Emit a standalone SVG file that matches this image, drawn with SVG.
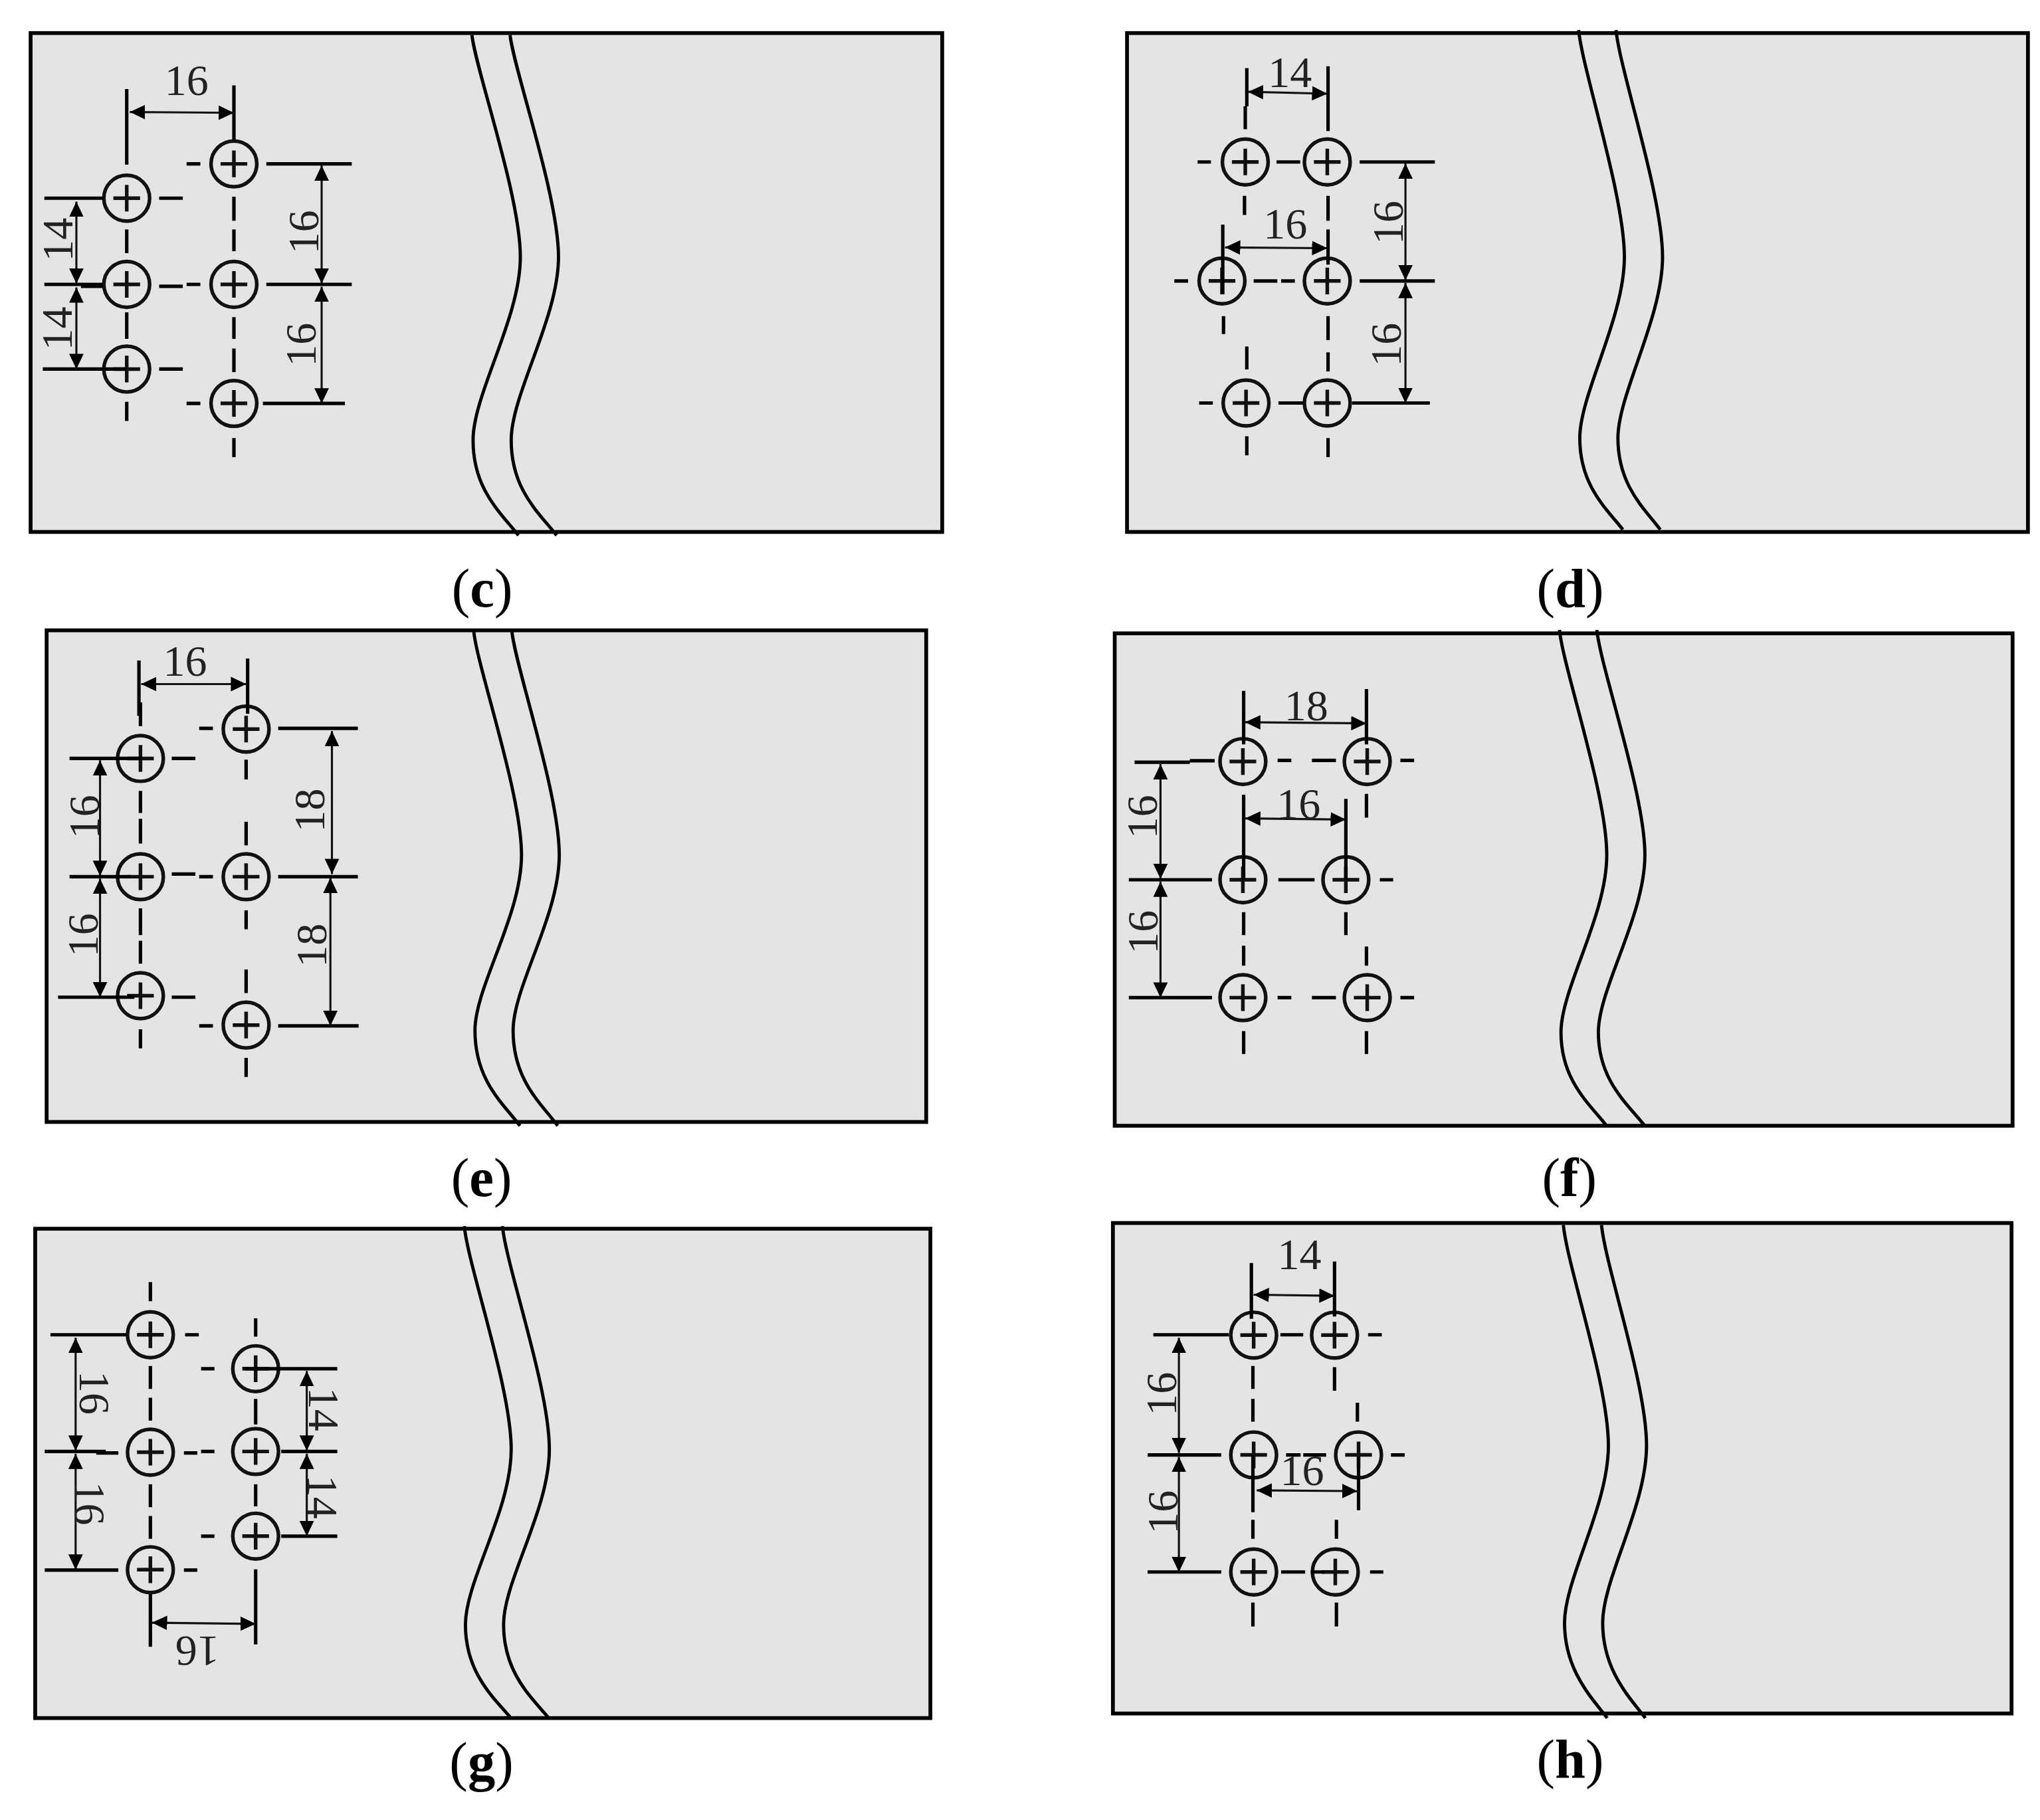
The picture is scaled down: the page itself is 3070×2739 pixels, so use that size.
<svg xmlns="http://www.w3.org/2000/svg" xmlns:xlink="http://www.w3.org/1999/xlink" width="3070" height="2739" viewBox="0 0 3070 2739">
<style>
.plate{fill:#e4e4e4;stroke:#000;stroke-width:10}
.wave{fill:none;stroke:#000;stroke-width:8.5}
.cl{fill:none;stroke:#000;stroke-width:9}
.dim{fill:none;stroke:#111;stroke-width:5.5;marker-start:url(#ah);marker-end:url(#ah)}
.num{font-family:"Liberation Serif",serif;font-size:115px;fill:#222;text-anchor:middle}
.cap{font-family:"Liberation Serif",serif;font-size:144px;fill:#000;text-anchor:middle}
.cap tspan{font-weight:bold}
.hc{fill:none;stroke:#111;stroke-width:9.5}
</style>
<defs>
<marker id="ah" markerUnits="userSpaceOnUse" markerWidth="40" markerHeight="40" refX="40" refY="20" orient="auto-start-reverse" viewBox="0 0 40 40"><path d="M0 1L40 20L0 39Z" fill="#000"/></marker>
<g id="hole"><circle class="hc" r="60"/><path class="hc" d="M-35 0H35M0 -35V35"/></g>
</defs>
<rect width="3070" height="2739" fill="#fff"/>

<g id="panel-c" transform="translate(30 30.8) scale(.574)">
<rect class="plate" x="28" y="33" width="2390" height="1308"/>
<path class="wave" d="M1185 38C1195 130 1312 460 1312 620C1312 780 1188 980 1188 1100C1188 1230 1260 1290 1307 1350M1285 38C1295 130 1412 460 1412 620C1412 780 1288 980 1288 1100C1288 1230 1360 1290 1407 1350"/>
<g id="c-hole-1"><use xlink:href="#hole" href="#hole" x="280" y="466"/></g>
<g id="c-hole-2"><use xlink:href="#hole" href="#hole" x="280" y="692"/></g>
<g id="c-hole-3"><use xlink:href="#hole" href="#hole" x="280" y="914"/></g>
<g id="c-hole-4"><use xlink:href="#hole" href="#hole" x="561" y="376"/></g>
<g id="c-hole-5"><use xlink:href="#hole" href="#hole" x="561" y="692"/></g>
<g id="c-hole-6"><use xlink:href="#hole" href="#hole" x="561" y="1004"/></g>
<g id="c-connectors">
<path class="cl" d="M280 180V378M561 170V312M280 548V610M280 765V835M280 1000V1050M561 462V525M561 548V605M561 778V835M561 860V922M561 1095V1145M64 466H218M365 466H427M437 376H473M646 376H870M64 692H218M160 697H218M365 697H427M437 692H473M646 692H870M60 914H278M365 914H427M437 1004H473M637 1004H852"/>
<path class="dim" d="M288 240L561 242"/><path class="dim" d="M148 475V690"/><path class="dim" d="M148 700V914"/><path class="dim" d="M791 380V690"/><path class="dim" d="M791 698V1004"/>
</g>
<text class="num" x="437" y="195">16</text>
<text class="num" transform="translate(100 575) rotate(-90)" y="38">14</text>
<text class="num" transform="translate(98 808) rotate(-90)" y="38">14</text>
<text class="num" transform="translate(745 555) rotate(-90)" y="38">16</text>
<text class="num" transform="translate(737 850) rotate(-90)" y="38">16</text>
<text class="cap" x="1212" y="1537">(<tspan>c</tspan>)</text>
</g>

<g id="panel-d" transform="translate(1680 30.8) scale(.574)">
<rect class="plate" x="28" y="33" width="2362" height="1308"/>
<path class="wave" d="M1212 25C1222 130 1332 460 1332 620C1332 780 1215 980 1215 1095C1215 1220 1285 1280 1328 1335M1310 25C1320 130 1432 460 1432 620C1432 780 1315 980 1315 1095C1315 1220 1385 1280 1426 1335"/>
<g id="d-hole-1"><use xlink:href="#hole" href="#hole" x="338" y="371"/></g>
<g id="d-hole-2"><use xlink:href="#hole" href="#hole" x="553" y="371"/></g>
<g id="d-hole-3"><use xlink:href="#hole" href="#hole" x="277" y="683"/></g>
<g id="d-hole-4"><use xlink:href="#hole" href="#hole" x="553" y="683"/></g>
<g id="d-hole-5"><use xlink:href="#hole" href="#hole" x="340" y="1003"/></g>
<g id="d-hole-6"><use xlink:href="#hole" href="#hole" x="553" y="1003"/></g>
<g id="d-connectors">
<path class="cl" d="M342 125V225M338 225V285M555 120V290M336 460V510M555 460V525M555 548V640M279 535V718M281 775V822M342 855V915M555 775V838M555 870V920M342 1090V1140M555 1095V1145M213 371H248M420 371H482M638 371H835M152 683H188M360 683H422M432 683H468M638 683H835M217 1003H253M425 1003H490M618 1003H822"/>
<path class="dim" d="M345 187L553 192"/><path class="dim" d="M285 595L553 597"/><path class="dim" d="M758 375V681"/><path class="dim" d="M758 688V1003"/>
</g>
<text class="num" x="455" y="175">14</text>
<text class="num" x="443" y="572">16</text>
<text class="num" transform="translate(712 530) rotate(-90)" y="38">16</text>
<text class="num" transform="translate(708 850) rotate(-90)" y="38">16</text>
<text class="cap" x="1190" y="1537">(<tspan>d</tspan>)</text>
</g>

<g id="panel-e" transform="translate(30 930.8) scale(.574)">
<rect class="plate" x="70" y="31" width="2306" height="1289"/>
<path class="wave" d="M1190 35C1200 130 1315 460 1315 620C1315 780 1193 965 1193 1080C1193 1210 1265 1270 1311 1330M1290 35C1300 130 1414 460 1414 620C1414 780 1293 965 1293 1080C1293 1210 1365 1270 1410 1330"/>
<g id="e-hole-1"><use xlink:href="#hole" href="#hole" x="316" y="367"/></g>
<g id="e-hole-2"><use xlink:href="#hole" href="#hole" x="316" y="677"/></g>
<g id="e-hole-3"><use xlink:href="#hole" href="#hole" x="316" y="989"/></g>
<g id="e-hole-4"><use xlink:href="#hole" href="#hole" x="593" y="290"/></g>
<g id="e-hole-5"><use xlink:href="#hole" href="#hole" x="593" y="677"/></g>
<g id="e-hole-6"><use xlink:href="#hole" href="#hole" x="593" y="1066"/></g>
<g id="e-connectors">
<path class="cl" d="M312 110V255M316 220V282M597 105V250M316 452V510M316 525V590M316 760V830M316 845V905M316 1077V1127M593 370V422M593 533V595M593 765V815M593 920V982M593 1152V1202M130 367H320M398 367H460M470 288H506M677 288H886M130 677H290M398 670H460M470 677H506M677 677H886M100 993H300M398 993H460M470 1068H506M677 1068H888"/>
<path class="dim" d="M318 172H593"/><path class="dim" d="M210 372V675"/><path class="dim" d="M210 682V993"/><path class="dim" d="M818 295V670"/><path class="dim" d="M814 680V1068"/>
</g>
<text class="num" x="433" y="150">16</text>
<text class="num" transform="translate(170 520) rotate(-90)" y="38">16</text>
<text class="num" transform="translate(165 830) rotate(-90)" y="38">16</text>
<text class="num" transform="translate(760 503) rotate(-90)" y="38">18</text>
<text class="num" transform="translate(765 857) rotate(-90)" y="38">18</text>
<text class="cap" x="1210" y="1515">(<tspan>e</tspan>)</text>
</g>

<g id="panel-f" transform="translate(1650 930.8) scale(.574)">
<rect class="plate" x="48" y="39" width="2354" height="1291"/>
<path class="wave" d="M1214 30C1224 130 1338 460 1338 620C1338 780 1218 970 1218 1085C1218 1210 1290 1270 1336 1328M1312 30C1322 130 1438 460 1438 620C1438 780 1316 970 1316 1085C1316 1210 1390 1270 1436 1328"/>
<g id="f-hole-1"><use xlink:href="#hole" href="#hole" x="384" y="375"/></g>
<g id="f-hole-2"><use xlink:href="#hole" href="#hole" x="710" y="375"/></g>
<g id="f-hole-3"><use xlink:href="#hole" href="#hole" x="384" y="685"/></g>
<g id="f-hole-4"><use xlink:href="#hole" href="#hole" x="654" y="685"/></g>
<g id="f-hole-5"><use xlink:href="#hole" href="#hole" x="384" y="994"/></g>
<g id="f-hole-6"><use xlink:href="#hole" href="#hole" x="710" y="994"/></g>
<g id="f-connectors">
<path class="cl" d="M386 190V330M708 185V330M386 462V685M708 460V522M654 473V685M386 770V830M386 858V910M654 770V830M708 860V910M386 1082V1142M708 1082V1142M100 377H245M245 373H310M475 372H511M565 372H628M797 372H833M85 685H303M477 685H572M743 685H778M85 994H303M475 994H511M565 994H628M797 994H833"/>
<path class="dim" d="M390 272L708 275"/><path class="dim" d="M390 524L654 527"/><path class="dim" d="M168 382V683"/><path class="dim" d="M168 690V994"/>
</g>
<text class="num" x="550" y="267">18</text>
<text class="num" x="530" y="525">16</text>
<text class="num" transform="translate(120 520) rotate(-90)" y="38">16</text>
<text class="num" transform="translate(122 822) rotate(-90)" y="38">16</text>
<text class="cap" x="1240" y="1515">(<tspan>f</tspan>)</text>
</g>

<g id="panel-g" transform="translate(30 1830.8) scale(.574)">
<rect class="plate" x="40" y="32" width="2347" height="1283"/>
<path class="wave" d="M1165 25C1175 130 1288 450 1288 610C1288 770 1168 955 1168 1070C1168 1195 1240 1260 1285 1312M1265 25C1275 130 1388 450 1388 610C1388 770 1268 955 1268 1070C1268 1195 1340 1260 1384 1312"/>
<g id="g-hole-1"><use xlink:href="#hole" href="#hole" x="342" y="310"/></g>
<g id="g-hole-2"><use xlink:href="#hole" href="#hole" x="342" y="618"/></g>
<g id="g-hole-3"><use xlink:href="#hole" href="#hole" x="342" y="926"/></g>
<g id="g-hole-4"><use xlink:href="#hole" href="#hole" x="618" y="399"/></g>
<g id="g-hole-5"><use xlink:href="#hole" href="#hole" x="618" y="616"/></g>
<g id="g-hole-6"><use xlink:href="#hole" href="#hole" x="618" y="838"/></g>
<g id="g-connectors">
<path class="cl" d="M342 172V222M342 392V452M342 475V535M342 702V762M342 785V845M342 990V1128M618 267V315M618 478V545M618 702V760M618 925V1122M80 310H280M433 310H469M475 399H510M590 399H832M65 616H225M200 620H258M430 620H465M475 616H510M685 616H832M65 927H258M430 927H465M475 838H510M685 838H832"/>
<path class="dim" d="M346 1065L618 1068"/><path class="dim" d="M146 318V614"/><path class="dim" d="M146 622V926"/><path class="dim" d="M752 405V614"/><path class="dim" d="M752 622V838"/>
</g>
<text class="num" transform="translate(465 1140) rotate(180)" y="38">16</text>
<text class="num" transform="translate(195 462) rotate(90)" y="38">16</text>
<text class="num" transform="translate(182 752) rotate(90)" y="38">16</text>
<text class="num" transform="translate(795 505) rotate(90)" y="38">14</text>
<text class="num" transform="translate(793 735) rotate(90)" y="38">14</text>
<text class="cap" x="1210" y="1478">(<tspan>g</tspan>)</text>
</g>

<g id="panel-h" transform="translate(1680 1830.8) scale(.574)">
<rect class="plate" x="-9" y="17" width="2356" height="1286"/>
<path class="wave" d="M1172 22C1182 130 1290 440 1290 600C1290 760 1175 950 1175 1065C1175 1190 1245 1260 1287 1315M1272 22C1282 130 1390 440 1390 600C1390 760 1275 950 1275 1065C1275 1190 1345 1260 1387 1315"/>
<g id="h-hole-1"><use xlink:href="#hole" href="#hole" x="360" y="311"/></g>
<g id="h-hole-2"><use xlink:href="#hole" href="#hole" x="572" y="311"/></g>
<g id="h-hole-3"><use xlink:href="#hole" href="#hole" x="360" y="625"/></g>
<g id="h-hole-4"><use xlink:href="#hole" href="#hole" x="635" y="625"/></g>
<g id="h-hole-5"><use xlink:href="#hole" href="#hole" x="360" y="932"/></g>
<g id="h-hole-6"><use xlink:href="#hole" href="#hole" x="574" y="932"/></g>
<g id="h-connectors">
<path class="cl" d="M354 122V268M572 118V262M358 392V452M572 395V457M358 478V538M632 488V538M358 625V775M635 630V770M358 795V845M577 795V845M358 1012V1075M577 1012V1075M97 310H295M430 310H490M660 310H696M82 625H275M445 625H483M490 625H550M720 625H756M82 932H275M432 932H495M510 932H545M665 932H700"/>
<path class="dim" d="M360 205L572 208"/><path class="dim" d="M368 718L632 720"/><path class="dim" d="M164 318V620"/><path class="dim" d="M164 630V932"/>
</g>
<text class="num" x="480" y="138">14</text>
<text class="num" x="487" y="705">16</text>
<text class="num" transform="translate(118 465) rotate(-90)" y="38">16</text>
<text class="num" transform="translate(122 775) rotate(-90)" y="38">16</text>
<text class="cap" x="1190" y="1470">(<tspan>h</tspan>)</text>
</g>
</svg>
